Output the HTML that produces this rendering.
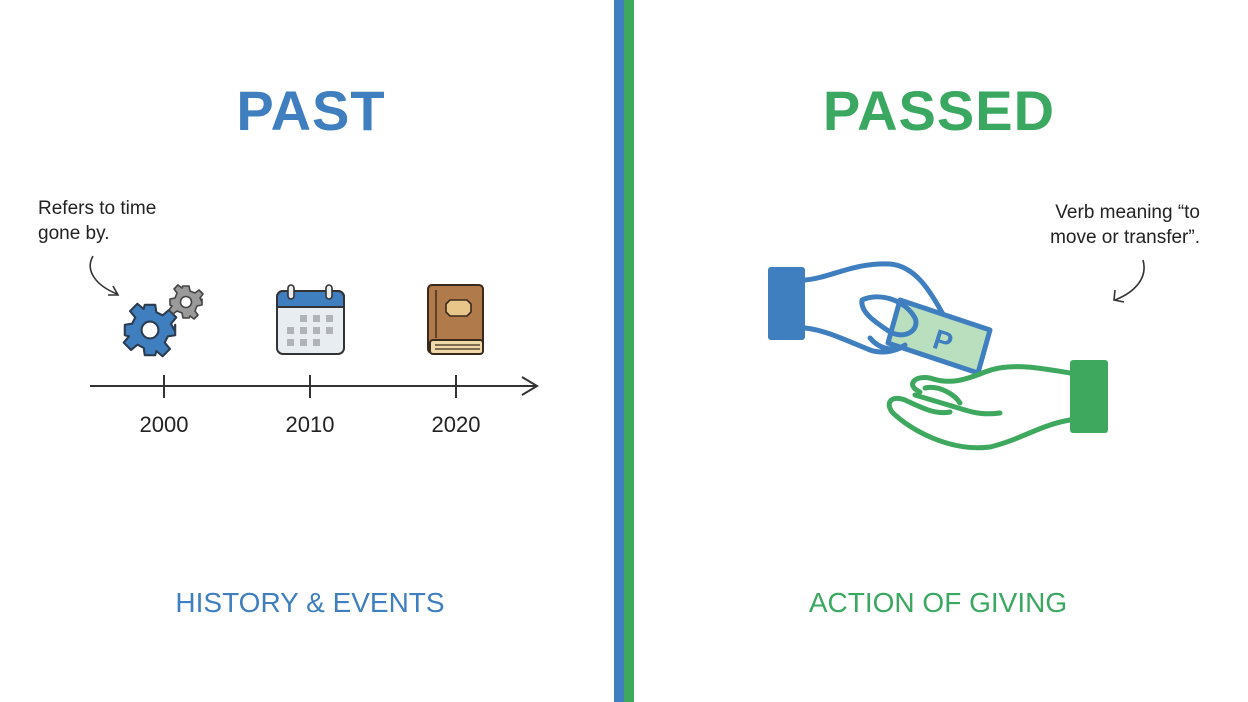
<!DOCTYPE html>
<html><head><meta charset="utf-8"><style>
html,body{margin:0;padding:0;background:#fff;}
svg{display:block;font-family:"Liberation Sans",sans-serif;}
</style></head><body>
<svg width="1248" height="702" viewBox="0 0 1248 702" xmlns="http://www.w3.org/2000/svg">
<rect width="1248" height="702" fill="#fff"/>
<rect x="614" y="0" width="10" height="702" fill="#3f7fc0"/>
<rect x="624" y="0" width="10" height="702" fill="#3fa85f"/>

<text x="311" y="130" font-size="56" font-weight="bold" fill="#3f7fbf" text-anchor="middle" letter-spacing="1">PAST</text>
<text x="939" y="130" font-size="56" font-weight="bold" fill="#3aa860" text-anchor="middle" letter-spacing="1">PASSED</text>

<text x="38" y="214" font-size="19" fill="#222">Refers to time</text>
<text x="38" y="239" font-size="19" fill="#222">gone by.</text>
<path d="M93 256 C85 270 95 285 117 294" fill="none" stroke="#333" stroke-width="1.6"/>
<path d="M108 295 L118 295 L113 286" fill="none" stroke="#333" stroke-width="1.6"/>

<!-- gears -->
<g transform="translate(150,330) scale(1.05)">
<path d="M-5 -24 L5 -24 L6 -17 L12 -14 L18 -19 L25 -12 L20 -6 L23 0 L24 -5 L24 5 L17 6 L14 12 L19 18 L12 25 L6 20 L5 24 L-5 24 L-6 17 L-12 14 L-18 19 L-25 12 L-20 6 L-24 5 L-24 -5 L-17 -6 L-14 -12 L-19 -18 L-12 -25 L-6 -20 Z" fill="#3f7fc0" stroke="#2b3c4f" stroke-width="2" stroke-linejoin="round"/>
<circle r="8" fill="#fff" stroke="#2b3c4f" stroke-width="2"/>
</g>
<g transform="translate(186,302)">
<path d="M-3 -16 L3 -16 L4 -11 L9 -9 L13 -12 L17 -8 L14 -4 L16 0 L16 -3 L16 3 L11 4 L9 9 L12 13 L8 17 L4 14 L3 16 L-3 16 L-4 11 L-9 9 L-13 12 L-17 8 L-14 4 L-16 3 L-16 -3 L-11 -4 L-9 -9 L-12 -13 L-8 -17 L-4 -14 Z" fill="#9a9a9a" stroke="#444" stroke-width="1.6" stroke-linejoin="round"/>
<circle r="5.5" fill="#fff" stroke="#444" stroke-width="1.6"/>
</g>

<!-- calendar -->
<g>
<rect x="277" y="291" width="67" height="63" rx="6" fill="#e8edf1" stroke="#333" stroke-width="2"/>
<path d="M277 307 V297 a6 6 0 0 1 6 -6 H338 a6 6 0 0 1 6 6 V307 Z" fill="#3f7fc0" stroke="#333" stroke-width="2"/>
<rect x="288" y="285" width="6" height="14" rx="3" fill="#eee" stroke="#333" stroke-width="1.6"/>
<rect x="326" y="285" width="6" height="14" rx="3" fill="#eee" stroke="#333" stroke-width="1.6"/>
<g fill="#b0b4b8">
<rect x="300" y="315" width="7" height="7"/><rect x="313" y="315" width="7" height="7"/><rect x="326" y="315" width="7" height="7"/>
<rect x="287" y="327" width="7" height="7"/><rect x="300" y="327" width="7" height="7"/><rect x="313" y="327" width="7" height="7"/><rect x="326" y="327" width="7" height="7"/>
<rect x="287" y="339" width="7" height="7"/><rect x="300" y="339" width="7" height="7"/><rect x="313" y="339" width="7" height="7"/>
</g>
</g>

<!-- book -->
<g>
<rect x="428" y="285" width="55" height="68" rx="4" fill="#b07a4a" stroke="#3a2a1c" stroke-width="2"/>
<rect x="430" y="340" width="53" height="14" rx="3" fill="#f0d9a8" stroke="#3a2a1c" stroke-width="2"/>
<line x1="435" y1="345" x2="480" y2="345" stroke="#3a2a1c" stroke-width="1.2"/>
<line x1="435" y1="349" x2="480" y2="349" stroke="#3a2a1c" stroke-width="1.2"/>
<line x1="436" y1="290" x2="436" y2="338" stroke="#3a2a1c" stroke-width="1.4"/>
<path d="M450 300 H467 L471 304 V312 L467 316 H450 L446 312 V304 Z" fill="#e8c588" stroke="#3a2a1c" stroke-width="1.6"/>
</g>

<!-- timeline -->
<line x1="90" y1="386" x2="536" y2="386" stroke="#333" stroke-width="2"/>
<path d="M522 377 L537 386 L522 395" fill="none" stroke="#333" stroke-width="2"/>
<line x1="164" y1="375" x2="164" y2="398" stroke="#333" stroke-width="2"/>
<line x1="310" y1="375" x2="310" y2="398" stroke="#333" stroke-width="2"/>
<line x1="456" y1="375" x2="456" y2="398" stroke="#333" stroke-width="2"/>
<text x="164" y="432" font-size="22" fill="#222" text-anchor="middle">2000</text>
<text x="310" y="432" font-size="22" fill="#222" text-anchor="middle">2010</text>
<text x="456" y="432" font-size="22" fill="#222" text-anchor="middle">2020</text>

<text x="310" y="612" font-size="28" fill="#3f7fbf" text-anchor="middle">HISTORY &amp; EVENTS</text>
<text x="938" y="612" font-size="28" fill="#3aa860" text-anchor="middle">ACTION OF GIVING</text>

<!-- right note -->
<text x="1200" y="218" font-size="19" fill="#222" text-anchor="end">Verb meaning “to</text>
<text x="1200" y="243" font-size="19" fill="#222" text-anchor="end">move or transfer”.</text>
<path d="M1143 260 C1148 278 1135 292 1115 300" fill="none" stroke="#333" stroke-width="1.6"/>
<path d="M1115 290 L1114 300 L1124 302" fill="none" stroke="#333" stroke-width="1.6"/>

<!-- giving hand (blue) -->
<rect x="768" y="267" width="37" height="73" rx="3" fill="#3f7fc0"/>
<path d="M805 280 C830 278 855 262 890 264 C915 266 930 290 945 318" fill="none" stroke="#3f7fc0" stroke-width="5" stroke-linecap="round"/>
<path d="M805 328 C825 330 845 340 870 350 C885 355 905 350 910 338" fill="none" stroke="#3f7fc0" stroke-width="5" stroke-linecap="round"/>
<polygon points="900,300 990,330 978,373 888,343" fill="#b9dfbf" stroke="#3f7fc0" stroke-width="5" stroke-linejoin="round"/>
<text x="940" y="350" font-size="28" font-weight="bold" fill="#3f7fc0" text-anchor="middle" transform="rotate(18 940 350)">P</text>
<path d="M862 300 C880 292 905 300 915 318 C920 330 905 340 890 332 C875 322 860 312 862 300 Z" fill="none" stroke="#3f7fc0" stroke-width="5" stroke-linejoin="round"/>
<path d="M870 338 C880 350 895 352 905 345" fill="none" stroke="#3f7fc0" stroke-width="5" stroke-linecap="round"/>

<!-- receiving hand (green) -->
<rect x="1070" y="360" width="38" height="73" rx="3" fill="#3fa85f"/>
<path d="M1070 373 C1040 368 1010 362 985 372 C965 380 950 385 930 378 C915 375 905 385 920 392" fill="none" stroke="#3fa85f" stroke-width="5" stroke-linecap="round"/>
<path d="M1070 420 C1040 425 1020 440 990 447 C950 452 910 430 892 412 C885 402 892 395 905 400 C920 407 935 415 950 412" fill="none" stroke="#3fa85f" stroke-width="5" stroke-linecap="round" stroke-linejoin="round"/>
<path d="M915 395 L965 410 C975 413 985 415 1000 413" fill="none" stroke="#3fa85f" stroke-width="5" stroke-linecap="round"/>
<path d="M925 388 C940 385 955 395 960 403" fill="none" stroke="#3fa85f" stroke-width="5" stroke-linecap="round"/>
</svg>
</body></html>
